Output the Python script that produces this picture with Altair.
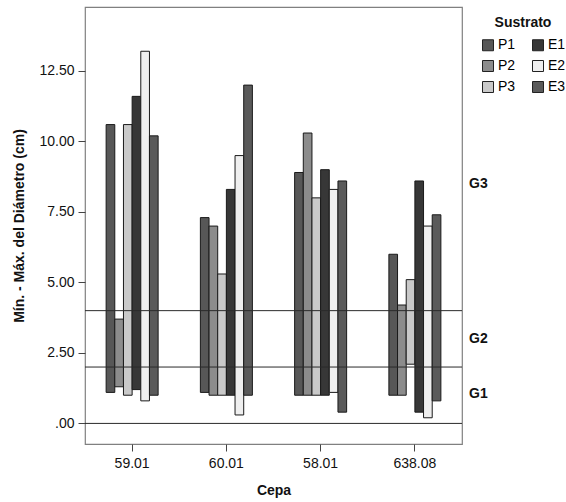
import altair as alt
import pandas as pd

cepas = ["59.01", "60.01", "58.01", "638.08"]
sustratos = ["P1", "P2", "P3", "E1", "E2", "E3"]
color_map = {"P1": "#575757", "P2": "#8c8c8c", "P3": "#c9c9c9",
             "E1": "#373737", "E2": "#efefef", "E3": "#5a5a5a"}

# min / max per cepa, in order P1, P2, P3, E1, E2, E3
mins = {
    "59.01": [1.1, 1.3, 1.0, 1.2, 0.8, 1.0],
    "60.01": [1.1, 1.0, 1.0, 1.0, 0.3, 1.0],
    "58.01": [1.0, 1.0, 1.0, 1.0, 1.1, 0.4],
    "638.08": [1.0, 1.0, 2.1, 0.4, 0.2, 0.8],
}
maxs = {
    "59.01": [10.6, 3.7, 10.6, 11.6, 13.2, 10.2],
    "60.01": [7.3, 7.0, 5.3, 8.3, 9.5, 12.0],
    "58.01": [8.9, 10.3, 8.0, 9.0, 8.3, 8.6],
    "638.08": [6.0, 4.2, 5.1, 8.6, 7.0, 7.4],
}

ref_lines = [0, 2, 4]
group_labels = ["G3", "G2", "G1"]
group_pos = [8.5, 3.0, 1.05]

rows = []
for c in cepas:
    for i, s in enumerate(sustratos):
        rows.append({"Cepa": c, "Sustrato": s, "min": mins[c][i], "max": maxs[c][i]})
df = pd.DataFrame(rows)

W, H = 377, 437
FONT = "Liberation Sans"
ydomain = [-0.73, 14.77]
band = W / len(cepas)
grp = 52.0
off_range = [(band - grp) / 2, (band + grp) / 2]

yscale = alt.Scale(domain=ydomain, nice=False, zero=False)

bars = alt.Chart(df).mark_bar(stroke="#1a1a1a", strokeWidth=1).encode(
    x=alt.X("Cepa:N", sort=cepas, title="Cepa",
            scale=alt.Scale(paddingInner=0, paddingOuter=0),
            axis=alt.Axis(labelAngle=0, tickSize=7, labelPadding=5, titlePadding=13,
                          domain=False, tickColor="#444444")),
    xOffset=alt.XOffset("Sustrato:N",
                        scale=alt.Scale(domain=sustratos, range=off_range,
                                        paddingInner=0, paddingOuter=0)),
    y=alt.Y("min:Q", scale=yscale, title="Mín. - Máx. del Diámetro (cm)",
            axis=alt.Axis(values=[0, 2.5, 5, 7.5, 10, 12.5], grid=False, domain=False,
                          tickSize=7, labelPadding=4, titlePadding=12, tickColor="#444444",
                          labelExpr="datum.value == 0 ? '.00' : format(datum.value, '.2f')")),
    y2="max:Q",
    color=alt.Color("Sustrato:N",
                    scale=alt.Scale(domain=sustratos,
                                    range=[color_map[s] for s in sustratos]),
                    legend=alt.Legend(orient="none", legendX=396, legendY=9, columns=2,
                                      title="Sustrato", titleFontSize=14, titleFontWeight="bold",
                                      titleFont=FONT, titleAnchor="middle", titlePadding=8,
                                      titleColor="#111111",
                                      labelFont=FONT, labelFontSize=14, labelColor="#000000",
                                      symbolType="square", symbolSize=121,
                                      symbolStrokeColor="#222222", symbolStrokeWidth=1,
                                      symbolOpacity=1, labelOffset=3,
                                      columnPadding=14, rowPadding=5)),
)

rules = alt.Chart(pd.DataFrame({"v": ref_lines})).mark_rule(color="#2a2a2a", strokeWidth=1).encode(
    y=alt.Y("v:Q", scale=yscale)
)

glabels = alt.Chart(pd.DataFrame({"g": group_labels, "v": group_pos})).mark_text(
    align="left", baseline="middle", font=FONT, fontSize=14, fontWeight="bold", color="#111111"
).encode(
    x=alt.value(W + 7),
    y=alt.Y("v:Q", scale=yscale),
    text="g:N",
)

chart = alt.layer(bars, rules, glabels).properties(
    width=W, height=H,
    autosize=alt.AutoSizeParams(type="none"),
    padding={"left": 85, "top": 7, "right": 104, "bottom": 58},
    background="white",
).configure_view(
    stroke="#808080", strokeWidth=1.2
).configure_axis(
    labelFont=FONT, titleFont=FONT, labelFontSize=14, titleFontSize=14,
    titleFontWeight="bold", labelColor="#111111", titleColor="#111111"
)

chart.save("out.html", embed_options={"renderer": "svg", "actions": False})
